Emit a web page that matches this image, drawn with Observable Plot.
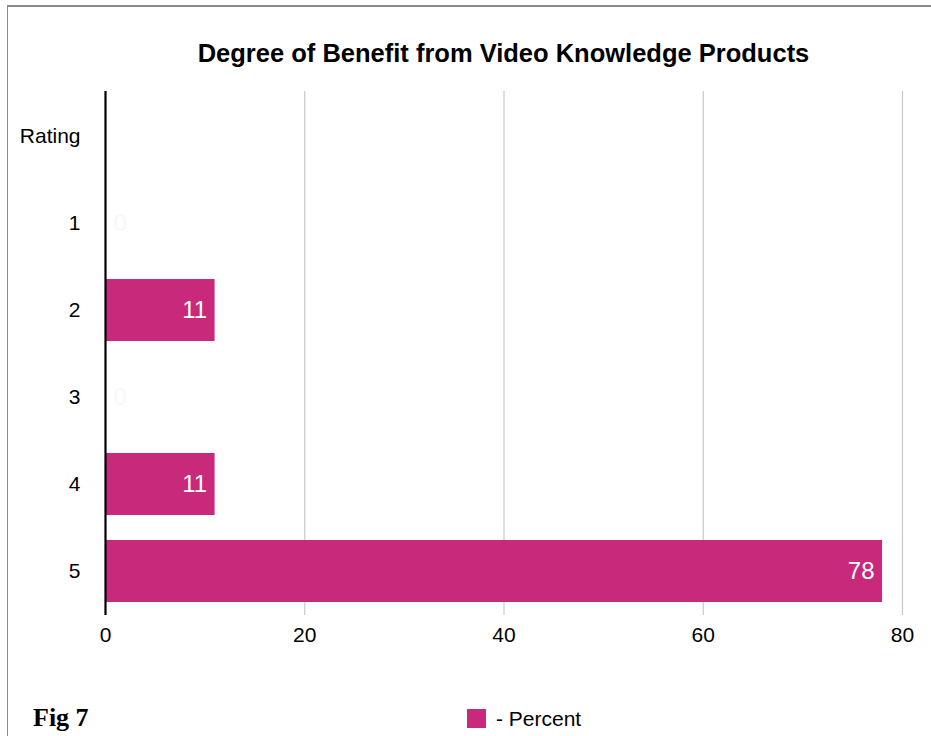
<!DOCTYPE html>
<html>
<head>
<meta charset="utf-8">
<script src="https://cdn.jsdelivr.net/npm/d3@7"></script>
<script src="https://cdn.jsdelivr.net/npm/@observablehq/plot@0.6"></script>
<style>
  html, body { margin: 0; padding: 0; background: #fff; }
  body { width: 931px; height: 736px; position: relative; overflow: hidden; font-family: "Liberation Sans", Arial, Helvetica, sans-serif; }
  #frame { position: absolute; left: 7px; top: 5px; width: 940px; height: 760px; border-left: 1.5px solid #8a8a8a; border-top: 2px solid #8a8a8a; box-sizing: border-box; }
  #title { position: absolute; left: 105px; width: 797px; top: 41px; text-align: center; font-weight: bold; font-size: 25.5px; line-height: 1; color: #000; white-space: nowrap; }
  #chart { position: absolute; left: 0; top: 0; }
  #fig { position: absolute; left: 33px; top: 705px; font-family: "Liberation Serif", "Times New Roman", serif; font-weight: bold; font-size: 26px; line-height: 1; color: #000; }
  #legend { position: absolute; left: 467px; top: 708px; display: flex; align-items: center; font-size: 21px; line-height: 1; color: #000; }
  #legend .sw { width: 19px; height: 19px; background: #c8297a; margin-right: 10px; }
</style>
</head>
<body>
<div id="frame"></div>
<div id="title">Degree of Benefit from Video Knowledge Products</div>
<div id="chart"></div>
<div id="fig">Fig 7</div>
<div id="legend"><div class="sw"></div><span>- Percent</span></div>
<script>
const headerLabel = "Rating";
const ratings = ["1", "2", "3", "4", "5"];
const percents = [0, 11, 0, 11, 78];
const xTicks = [0, 20, 40, 60, 80];
const seriesName = "Percent";
const barColor = "#c8297a";

const data = ratings.map((r, i) => ({rating: r, value: percents[i]}));

const chart = Plot.plot({
  width: 931,
  height: 660,
  marginLeft: 105,
  marginRight: 29,
  marginTop: 91,
  marginBottom: 45,
  style: {fontFamily: "'Liberation Sans', Arial, Helvetica, sans-serif", background: "transparent"},
  x: {domain: [0, 80], ticks: xTicks},
  y: {domain: [headerLabel, ...ratings], paddingInner: 0.29, paddingOuter: 0.145},
  marks: [
    Plot.gridX(xTicks.filter(t => t > 0), {stroke: "#c8c8c8", strokeOpacity: 1, strokeWidth: 1.2}),
    Plot.barX(data.filter(d => d.value > 0), {x: "value", y: "rating", fill: barColor}),
    Plot.text(data.filter(d => d.value > 0), {x: "value", y: "rating", text: d => String(d.value), textAnchor: "end", dx: -8, fill: "#fff", fontSize: 24}),
    Plot.text(data.filter(d => d.value === 0), {x: "value", y: "rating", text: d => String(d.value), textAnchor: "start", dx: 8, fill: "#f8f8f8", fontSize: 24}),
    Plot.ruleX([0], {stroke: "#000", strokeWidth: 2.2}),
    Plot.axisX({ticks: xTicks, tickSize: 0, tickPadding: 12, fontSize: 21, label: null, color: "#000"}),
    Plot.axisY({tickSize: 0, tickPadding: 25, fontSize: 21, label: null, color: "#000"})
  ]
});
document.getElementById("chart").appendChild(chart);
</script>
</body>
</html>
